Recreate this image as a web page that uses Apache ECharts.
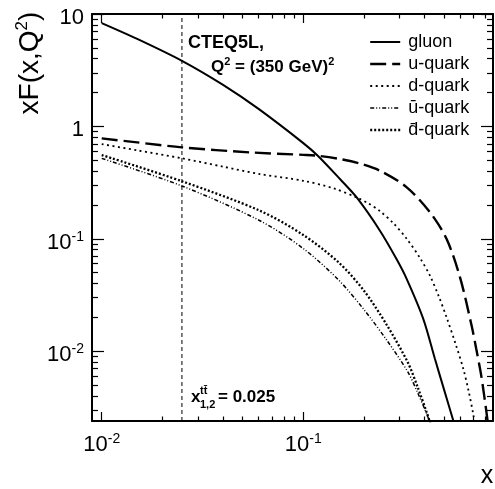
<!DOCTYPE html>
<html>
<head>
<meta charset="utf-8">
<script src="https://cdn.jsdelivr.net/npm/echarts@6/dist/echarts.min.js"></script>
<style>
html, body { margin: 0; padding: 0; background: #fff; }
#chart { width: 495px; height: 489px; }
</style>
</head>
<body>
<div id="chart"></div>
<script>
// CTEQ5L parton distributions xF(x,Q^2) at Q^2 = (350 GeV)^2
const gluonX = [0.01, 0.015, 0.025, 0.04, 0.06, 0.1, 0.118, 0.152, 0.184, 0.24, 0.29, 0.326, 0.394, 0.45, 0.5, 0.555, 0.57];
const gluonY = [8.3, 6.0, 3.83, 2.34, 1.43, 0.71, 0.548, 0.34, 0.233, 0.118, 0.066, 0.0438, 0.0193, 0.0085, 0.0045, 0.0024, 0.002];

const uX = [0.01, 0.015, 0.025, 0.0544, 0.1, 0.118, 0.152, 0.19, 0.24, 0.326, 0.425, 0.514, 0.599, 0.684, 0.72, 0.76, 0.79, 0.81, 0.83];
const uY = [0.782, 0.72, 0.65, 0.587, 0.558, 0.548, 0.512, 0.468, 0.403, 0.287, 0.172, 0.0993, 0.0454, 0.0168, 0.0106, 0.00634, 0.00398, 0.00287, 0.00204];

const dX = [0.01, 0.015, 0.025, 0.04, 0.061, 0.1, 0.141, 0.184, 0.21, 0.24, 0.28, 0.326, 0.38, 0.425, 0.47, 0.514, 0.57, 0.622, 0.66, 0.697, 0.72];
const dY = [0.696, 0.612, 0.52, 0.438, 0.376, 0.328, 0.281, 0.233, 0.2065, 0.176, 0.1374, 0.0998, 0.067, 0.0469, 0.0307, 0.01995, 0.01153, 0.00695, 0.00446, 0.00273, 0.00191];

const ubarX = [0.01, 0.025, 0.061, 0.1, 0.15, 0.2, 0.26, 0.33, 0.37, 0.41, 0.44];
const ubarY = [0.519, 0.295, 0.1446, 0.0818, 0.0428, 0.0234, 0.01245, 0.00654, 0.00423, 0.00275, 0.00196];

const dbarX = [0.01, 0.025, 0.061, 0.1, 0.15, 0.2, 0.26, 0.33, 0.37, 0.41, 0.44];
const dbarY = [0.556, 0.325, 0.1774, 0.108, 0.0614, 0.0345, 0.017, 0.00792, 0.00473, 0.00283, 0.00192];

const seriesNames = ['gluon', 'u-quark', 'd-quark', '\u016B-quark', 'd\u0304-quark'];

// axis ranges and tick positions
const xMin = 0.00895, xMax = 0.873;
const yMin = 0.00239, yMax = 10;
const xMajorTicks = [0.01, 0.1];
const xMinorTicks = [0.02, 0.03, 0.04, 0.05, 0.06, 0.07, 0.08, 0.09, 0.2, 0.3, 0.4, 0.5, 0.6, 0.7, 0.8];
const yMajorTicks = [0.01, 0.1, 1, 10];
const yMinorTicks = [0.003, 0.004, 0.005, 0.006, 0.007, 0.008, 0.009,
  0.02, 0.03, 0.04, 0.05, 0.06, 0.07, 0.08, 0.09,
  0.2, 0.3, 0.4, 0.5, 0.6, 0.7, 0.8, 0.9,
  2, 3, 4, 5, 6, 7, 8, 9];
// x value of the vertical reference line
const xCut = 0.025;

const FONT = '"Liberation Sans", Arial, Helvetica, sans-serif';

const powRich = {
  b: { fontFamily: FONT, fontSize: 22, color: '#000', lineHeight: 24, verticalAlign: 'bottom' },
  s: { fontFamily: FONT, fontSize: 14, color: '#000', lineHeight: 14, verticalAlign: 'top' }
};
function powerLabel(v) {
  const e = Math.round(Math.log10(v));
  if (e === 0) return '{b|1}';
  if (e === 1) return '{b|10}';
  return '{b|10}{s|' + e + '}';
}

function xAxisDef(position, ticks, len, withLine, withLabel) {
  return {
    type: 'log', gridIndex: 0, position: position, min: xMin, max: xMax,
    axisLine: { show: withLine, onZero: false, lineStyle: { color: '#000', width: 2 } },
    axisTick: { show: true, inside: true, length: len, customValues: ticks, lineStyle: { color: '#000', width: 1.2 } },
    axisLabel: withLabel
      ? { show: true, customValues: xMajorTicks, formatter: powerLabel, rich: powRich, margin: 11 }
      : { show: false },
    splitLine: { show: false },
    minorTick: { show: false }
  };
}
function yAxisDef(position, ticks, len, withLine, withLabel) {
  return {
    type: 'log', gridIndex: 0, position: position, min: yMin, max: yMax,
    axisLine: { show: withLine, onZero: false, lineStyle: { color: '#000', width: 2 } },
    axisTick: { show: true, inside: true, length: len, customValues: ticks, lineStyle: { color: '#000', width: 1.2 } },
    axisLabel: withLabel
      ? { show: true, customValues: yMajorTicks, formatter: powerLabel, rich: powRich, margin: 8, padding: [6, 0, 0, 0] }
      : { show: false },
    splitLine: { show: false },
    minorTick: { show: false }
  };
}

function curve(name, xs, ys, style) {
  return {
    name: name, type: 'line', xAxisIndex: 0, yAxisIndex: 0,
    data: xs.map((x, i) => [x, ys[i]]),
    symbol: 'none', smooth: 0.3, clip: true, animation: false,
    lineStyle: Object.assign({ color: '#000' }, style),
    itemStyle: { color: '#000' }
  };
}

const chart = echarts.init(document.getElementById('chart'), null, { renderer: 'canvas' });

const series = [
  curve(seriesNames[0], gluonX, gluonY, { width: 2, type: 'solid' }),
  curve(seriesNames[1], uX, uY, { width: 2.4, type: [16, 6] }),
  curve(seriesNames[2], dX, dY, { width: 1.8, type: [2, 3.5] }),
  curve(seriesNames[3], ubarX, ubarY, { width: 1.5, type: [4, 2, 1, 2, 1, 2] }),
  curve(seriesNames[4], dbarX, dbarY, { width: 2.3, type: [2, 2] }),
  // vertical dashed line at x = xCut spanning the full y range
  {
    name: 'xcut', type: 'line', xAxisIndex: 0, yAxisIndex: 0,
    data: [[xCut, yMin], [xCut, yMax]],
    symbol: 'none', silent: true, animation: false,
    lineStyle: { color: '#000', width: 1, type: [4, 3] }
  }
];

chart.setOption({
  animation: false,
  backgroundColor: '#fff',
  grid: { left: 92, top: 14, right: 2, bottom: 68, containLabel: false, outerBoundsMode: 'none' },
  xAxis: [
    xAxisDef('bottom', xMajorTicks, 9, true, true),
    xAxisDef('bottom', xMinorTicks, 4.5, false, false),
    xAxisDef('top', xMajorTicks, 9, true, false),
    xAxisDef('top', xMinorTicks, 4.5, false, false)
  ],
  yAxis: [
    yAxisDef('left', yMajorTicks, 12, true, true),
    yAxisDef('left', yMinorTicks, 6, false, false),
    yAxisDef('right', yMajorTicks, 12, true, false),
    yAxisDef('right', yMinorTicks, 6, false, false)
  ],
  legend: {
    orient: 'vertical', left: 369, top: 33, padding: 0,
    itemWidth: 30, itemHeight: 14, itemGap: 4,
    data: seriesNames,
    itemStyle: { color: 'rgba(0,0,0,0)', borderColor: 'rgba(0,0,0,0)', borderWidth: 0, opacity: 0 },
    lineStyle: { width: 'inherit' },
    textStyle: { fontFamily: FONT, fontSize: 18, color: '#000', lineHeight: 18, padding: [0, 0, 0, 3] },
    selectedMode: false
  },
  graphic: [
    {
      type: 'text', x: 188, y: 43,
      style: { text: 'CTEQ5L,', font: 'bold 18px ' + FONT, fill: '#000', verticalAlign: 'middle' }
    },
    {
      type: 'text', x: 211, y: 66,
      style: {
        text: '{a|Q}{s|2}{a| = (350 GeV)}{s|2}', verticalAlign: 'middle',
        rich: {
          a: { font: 'bold 17px ' + FONT, fill: '#000', lineHeight: 20, verticalAlign: 'bottom' },
          s: { font: 'bold 11px ' + FONT, fill: '#000', lineHeight: 11, verticalAlign: 'top' }
        }
      }
    },
    {
      type: 'text', x: 191, y: 397,
      style: { text: 'x', font: 'bold 17px ' + FONT, fill: '#000', verticalAlign: 'middle' }
    },
    {
      type: 'text', x: 200, y: 391,
      style: { text: 'tt\u0304', font: 'bold 11px ' + FONT, fill: '#000', verticalAlign: 'middle' }
    },
    {
      type: 'text', x: 200, y: 405,
      style: { text: '1,2', font: 'bold 11px ' + FONT, fill: '#000', verticalAlign: 'middle' }
    },
    {
      type: 'text', x: 218, y: 397,
      style: { text: '= 0.025', font: 'bold 17px ' + FONT, fill: '#000', verticalAlign: 'middle' }
    },
    {
      type: 'text', x: 487, y: 476,
      style: { text: 'x', font: '25px ' + FONT, fill: '#000', align: 'center', verticalAlign: 'middle' }
    },
    {
      type: 'text', x: 29, y: 63, rotation: Math.PI / 2,
      style: {
        text: '{a|xF(x,Q}{s|2}{a|)}', align: 'center', verticalAlign: 'middle',
        rich: {
          a: { font: '28px ' + FONT, fill: '#000', lineHeight: 30, verticalAlign: 'bottom' },
          s: { font: '17px ' + FONT, fill: '#000', lineHeight: 17, verticalAlign: 'top' }
        }
      }
    }
  ],
  series: series
});
</script>
</body>
</html>
